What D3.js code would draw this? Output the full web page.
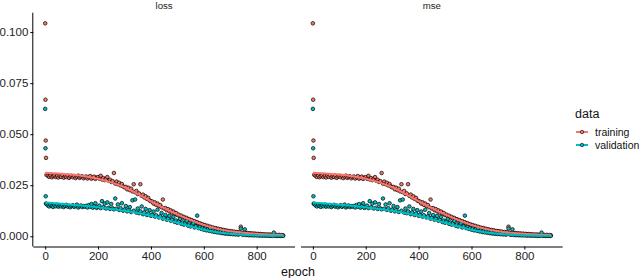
<!DOCTYPE html>
<html>
<head>
<meta charset="utf-8">
<script src="https://cdn.jsdelivr.net/npm/d3@7"></script>
<style>
  html, body { margin: 0; padding: 0; background: #fff; }
  svg { display: block; font-family: "Liberation Sans", Arial, sans-serif; }
</style>
</head>
<body>
<svg id="chart" width="640" height="278"></svg>
<script>
// ---------------- DATA ----------------
const panels = ["loss", "mse"];
const seriesNames = ["training", "validation"];
const xTicks = [0, 200, 400, 600, 800];
const yTicks = [0, 0.025, 0.05, 0.075, 0.1];

// first epochs (large initial values)
const earlyEpochs = [0, 1, 2, 3];
const trainingEarly = [0.1043, 0.0669, 0.0469, 0.0384];
const validationEarly = [0.0624, 0.0431, 0.0196, 0.0160];

// epochs 5, 10, ..., 900 (every 5th epoch)
const epochStart = 5, epochStep = 5;
const training = [
  0.0301, 0.0296, 0.0291, 0.0297, 0.0289, 0.0294, 0.0298, 0.0290, 0.0295, 0.0288,
  0.0296, 0.0291, 0.0299, 0.0287, 0.0294, 0.0290, 0.0297, 0.0286, 0.0293, 0.0296,
  0.0289, 0.0295, 0.0285, 0.0292, 0.0297, 0.0286, 0.0291, 0.0294, 0.0284, 0.0290,
  0.0293, 0.0283, 0.0289, 0.0295, 0.0282, 0.0288, 0.0292, 0.0281, 0.0287, 0.0290,
  0.0282, 0.0296, 0.0278, 0.0285, 0.0275, 0.0281, 0.0290, 0.0272, 0.0277, 0.0266,
  0.0270, 0.0310, 0.0258, 0.0268, 0.0255, 0.0262, 0.0249, 0.0256, 0.0244, 0.0240,
  0.0242, 0.0230, 0.0238, 0.0226, 0.0233, 0.0220, 0.0255, 0.0216, 0.0222, 0.0207,
  0.0210, 0.0255, 0.0198, 0.0204, 0.0190, 0.0196, 0.0183, 0.0188, 0.0175, 0.0172,
  0.0170, 0.0160, 0.0166, 0.0154, 0.0160, 0.0148, 0.0153, 0.0142, 0.0180, 0.0136,
  0.0138, 0.0128, 0.0133, 0.0122, 0.0127, 0.0116, 0.0121, 0.0110, 0.0114, 0.0104,
  0.0106, 0.0097, 0.0101, 0.0092, 0.0095, 0.0087, 0.0090, 0.0082, 0.0084, 0.0077,
  0.0079, 0.0071, 0.0074, 0.0066, 0.0069, 0.0062, 0.0064, 0.0057, 0.0059, 0.0053,
  0.0055, 0.0048, 0.0051, 0.0045, 0.0047, 0.0041, 0.0043, 0.0038, 0.0040, 0.0035,
  0.0037, 0.0032, 0.0034, 0.0030, 0.0031, 0.0027, 0.0029, 0.0025, 0.0026, 0.0023,
  0.0025, 0.0021, 0.0023, 0.0019, 0.0021, 0.0018, 0.0020, 0.0047, 0.0017, 0.0016,
  0.0018, 0.0014, 0.0016, 0.0013, 0.0015, 0.0012, 0.0014, 0.0011, 0.0013, 0.0010,
  0.0012, 0.0009, 0.0011, 0.0008, 0.0010, 0.0008, 0.0009, 0.0007, 0.0009, 0.0007,
  0.0008, 0.0006, 0.0008, 0.0006, 0.0007, 0.0005, 0.0007, 0.0005, 0.0006, 0.0005
];
const validation = [
  0.0158, 0.0151, 0.0146, 0.0153, 0.0148, 0.0144, 0.0152, 0.0147, 0.0155, 0.0145,
  0.0150, 0.0146, 0.0153, 0.0143, 0.0149, 0.0154, 0.0145, 0.0150, 0.0142, 0.0148,
  0.0152, 0.0144, 0.0149, 0.0155, 0.0141, 0.0147, 0.0151, 0.0143, 0.0148, 0.0145,
  0.0149, 0.0141, 0.0153, 0.0145, 0.0158, 0.0140, 0.0147, 0.0162, 0.0139, 0.0144,
  0.0150, 0.0138, 0.0172, 0.0142, 0.0160, 0.0136, 0.0166, 0.0140, 0.0134, 0.0158,
  0.0137, 0.0132, 0.0185, 0.0135, 0.0156, 0.0129, 0.0138, 0.0162, 0.0125, 0.0131,
  0.0148, 0.0122, 0.0130, 0.0143, 0.0119, 0.0176, 0.0125, 0.0180, 0.0116, 0.0136,
  0.0113, 0.0122, 0.0146, 0.0108, 0.0117, 0.0134, 0.0104, 0.0112, 0.0128, 0.0100,
  0.0106, 0.0121, 0.0096, 0.0103, 0.0130, 0.0092, 0.0098, 0.0114, 0.0086, 0.0093,
  0.0104, 0.0081, 0.0088, 0.0100, 0.0076, 0.0083, 0.0095, 0.0070, 0.0077, 0.0066,
  0.0073, 0.0085, 0.0061, 0.0068, 0.0057, 0.0066, 0.0075, 0.0052, 0.0058, 0.0048,
  0.0054, 0.0063, 0.0043, 0.0049, 0.0101, 0.0040, 0.0046, 0.0036, 0.0041, 0.0032,
  0.0038, 0.0029, 0.0034, 0.0027, 0.0040, 0.0024, 0.0028, 0.0021, 0.0025, 0.0019,
  0.0023, 0.0017, 0.0021, 0.0015, 0.0019, 0.0013, 0.0017, 0.0012, 0.0015, 0.0011,
  0.0014, 0.0010, 0.0013, 0.0009, 0.0012, 0.0008, 0.0011, 0.0038, 0.0009, 0.0007,
  0.0034, 0.0006, 0.0009, 0.0005, 0.0008, 0.0005, 0.0007, 0.0004, 0.0007, 0.0004,
  0.0006, 0.0003, 0.0006, 0.0003, 0.0005, 0.0003, 0.0005, 0.0003, 0.0004, 0.0002,
  0.0004, 0.0002, 0.0018, 0.0002, 0.0004, 0.0002, 0.0003, 0.0002, 0.0003, 0.0002
];

// loess smooth curves
const smoothEpochs = [0, 50, 100, 150, 200, 250, 300, 350, 400, 450, 500, 550, 600, 650, 700, 750, 800, 850, 900];
const smoothTraining = [0.0311, 0.0307, 0.0302, 0.0294, 0.0282, 0.0264, 0.0240, 0.0208, 0.0171, 0.0138, 0.0107, 0.0079, 0.0055, 0.0037, 0.0025, 0.0017, 0.0012, 0.0009, 0.0007];
const smoothValidation = [0.0166, 0.0160, 0.0155, 0.0149, 0.0142, 0.0134, 0.0125, 0.0114, 0.0101, 0.0084, 0.0066, 0.0048, 0.0032, 0.0020, 0.0012, 0.0007, 0.0004, 0.0003, 0.0002];

// ---------------- BUILD ----------------
const colors = { training: "#F8766D", validation: "#00BFC4" };
function buildPoints(early, main) {
  const pts = earlyEpochs.map((e, i) => ({ epoch: e, value: early[i] }));
  main.forEach((v, i) => pts.push({ epoch: epochStart + i * epochStep, value: v }));
  return pts;
}
const pointData = {
  training: buildPoints(trainingEarly, training),
  validation: buildPoints(validationEarly, validation)
};
const smoothData = {
  training: smoothEpochs.map((e, i) => ({ epoch: e, value: smoothTraining[i] })),
  validation: smoothEpochs.map((e, i) => ({ epoch: e, value: smoothValidation[i] }))
};

const svg = d3.select("#chart");
const plotTop = 12.7, plotBottom = 246.5;
const panelX = [[33.3, 295], [301, 562.7]];

const allVals = training.concat(validation, trainingEarly, validationEarly);
const yMin = d3.min(allVals), yMax = d3.max(allVals);
const yPad = (yMax - yMin) * 0.05;
const y = d3.scaleLinear().domain([yMin - yPad, yMax + yPad]).range([plotBottom, plotTop]);
const xPad = 900 * 0.05;

panels.forEach((name, pi) => {
  const [x0, x1] = panelX[pi];
  const x = d3.scaleLinear().domain([0 - xPad, 900 + xPad]).range([x0, x1]);
  const g = svg.append("g");

  // strip label
  g.append("text").attr("x", (x0 + x1) / 2).attr("y", 8.5)
    .attr("text-anchor", "middle").attr("font-size", "9.6px").attr("fill", "#1a1a1a")
    .text(name);

  // points
  seriesNames.forEach(s => {
    g.append("g").selectAll("circle").data(pointData[s]).join("circle")
      .attr("cx", d => x(d.epoch)).attr("cy", d => y(d.value))
      .attr("r", 1.8).attr("fill", colors[s])
      .attr("stroke", "#000").attr("stroke-width", 0.7);
  });
  // smooth lines
  const line = d3.line().x(d => x(d.epoch)).y(d => y(d.value)).curve(d3.curveMonotoneX);
  seriesNames.forEach(s => {
    g.append("path").datum(smoothData[s]).attr("d", line)
      .attr("fill", "none").attr("stroke", colors[s]).attr("stroke-width", 2);
  });

  // x axis
  const xa = g.append("g").attr("transform", `translate(0,${plotBottom})`)
    .call(d3.axisBottom(x).tickValues(xTicks).tickSize(3).tickPadding(2).tickSizeOuter(0));
  xa.select(".domain").attr("stroke", "#000").attr("stroke-width", 1)
    .attr("d", `M${x0},0.5H${x1}`);
  xa.selectAll(".tick line").attr("stroke", "#000").attr("stroke-width", 1);
  xa.selectAll("text").attr("font-size", "11.5px").attr("fill", "#222")
    .attr("font-family", "Liberation Sans, Arial, sans-serif");

  if (pi === 0) {
    const ya = g.append("g").attr("transform", `translate(${x0},0)`)
      .call(d3.axisLeft(y).tickValues(yTicks).tickFormat(d3.format(".3f")).tickSize(3).tickPadding(2).tickSizeOuter(0));
    ya.select(".domain").attr("stroke", "#000").attr("stroke-width", 1)
      .attr("d", `M-0.5,${plotTop}V${plotBottom}`);
    ya.selectAll(".tick line").attr("stroke", "#000").attr("stroke-width", 1);
    ya.selectAll("text").attr("font-size", "11.5px").attr("fill", "#222")
      .attr("font-family", "Liberation Sans, Arial, sans-serif");
  }
});

// x axis title
svg.append("text").attr("x", (panelX[0][0] + panelX[1][1]) / 2).attr("y", 276)
  .attr("text-anchor", "middle").attr("font-size", "12.5px").attr("fill", "#111")
  .text("epoch");

// legend
const lg = svg.append("g");
lg.append("text").attr("x", 575).attr("y", 117.5).attr("font-size", "12.5px").attr("fill", "#111").text("data");
seriesNames.forEach((s, i) => {
  const cy = 132 + i * 13;
  lg.append("line").attr("x1", 576).attr("x2", 588).attr("y1", cy).attr("y2", cy)
    .attr("stroke", colors[s]).attr("stroke-width", 2);
  lg.append("circle").attr("cx", 582).attr("cy", cy).attr("r", 1.75)
    .attr("fill", colors[s]).attr("stroke", "#000").attr("stroke-width", 0.6);
  lg.append("text").attr("x", 595).attr("y", cy + 3.6).attr("font-size", "10.5px").attr("fill", "#111").text(s);
});
</script>
</body>
</html>
